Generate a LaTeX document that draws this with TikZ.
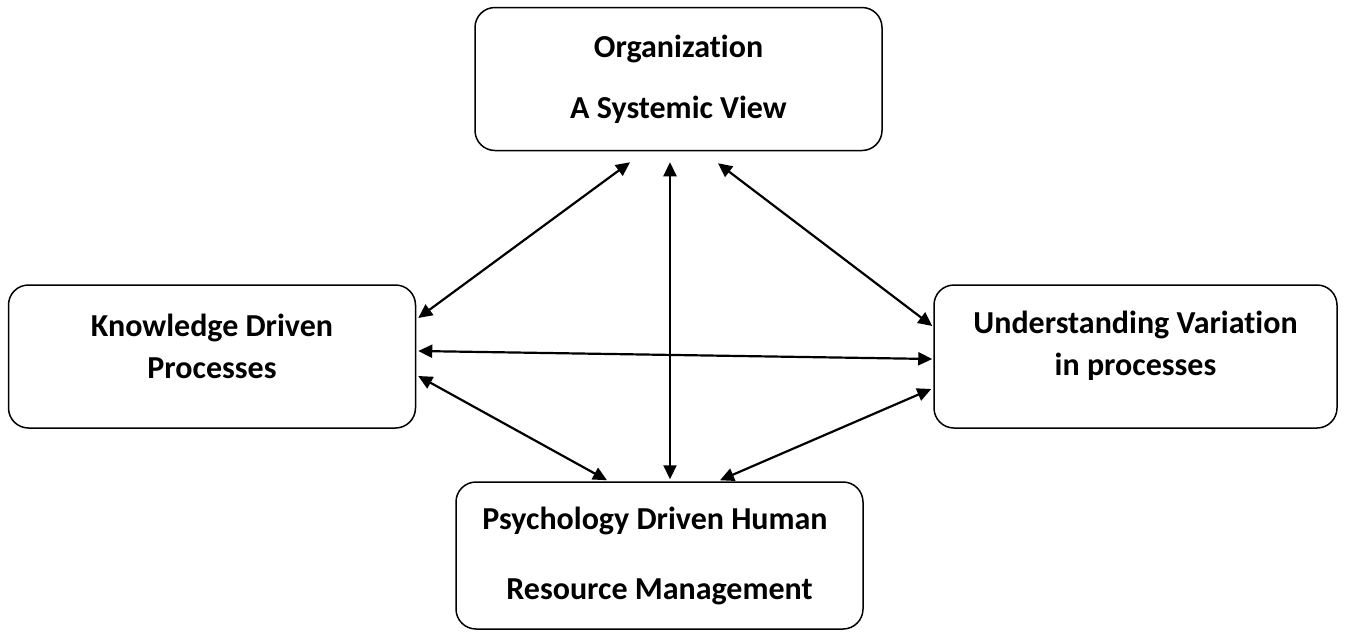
\documentclass[tikz,border=0pt]{standalone}
\usepackage{fontspec}
\setmainfont{Carlito}[Ligatures=NoCommon]
\usepackage{tikz}
\usetikzlibrary{arrows.meta}

\begin{document}
\begin{tikzpicture}[
  x=0.5pt, y=-0.5pt,
  block/.style={draw, rounded corners=10pt, line width=0.75pt,
    minimum width=203.5pt, minimum height=71.5pt, align=center,
    font=\fontsize{16}{21}\selectfont\bfseries, inner sep=0pt},
  link/.style={{Triangle[length=7pt,width=6.5pt]}-{Triangle[length=7pt,width=6.5pt]},
    line width=1.1pt}
]
\useasboundingbox (0,0) rectangle (1346,633);

\node[block] (org) at (678.5,79) {Organization\\[9.5pt]A Systemic View};
\node[block, text depth=10pt] (know) at (212,356.5) {Knowledge Driven\\Processes};
\node[block, text depth=13pt, minimum width=201.5pt] (var) at (1135.5,356.5)
  {Understanding Variation\\in processes};
\node[block, minimum height=73.5pt] (psy) at (659.5,555.5)
  {Psychology Driven Human\hspace*{4.5pt}\\[14pt]Resource Management};

\draw[link] ([shift={(-48.5,11)}]org.south) -- ([shift={(2,-38.5)}]know.east);
\draw[link] ([shift={(-8.5,11)}]org.south) -- ([shift={(10.5,-2)}]psy.north);
\draw[link] ([shift={(39.5,12)}]org.south) -- ([shift={(-1,-30.5)}]var.west);
\draw[link] ([shift={(2,-5.5)}]know.east) -- ([shift={(-1,2.5)}]var.west);
\draw[link] ([shift={(2,19.5)}]know.east) -- ([shift={(-52.5,-1)}]psy.north);
\draw[link] ([shift={(-2,32.5)}]var.west) -- ([shift={(60.5,-1)}]psy.north);
\end{tikzpicture}
\end{document}
